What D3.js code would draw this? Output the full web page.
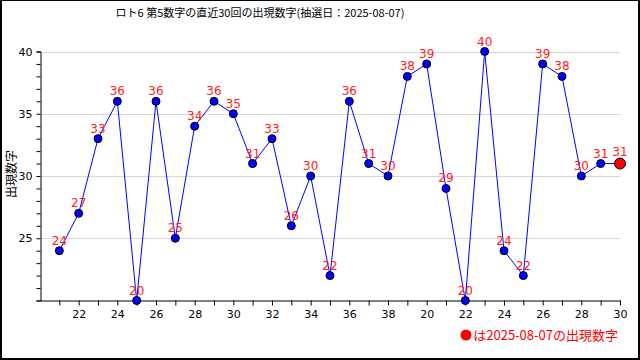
<!DOCTYPE html>
<html><head><meta charset="utf-8">
<script src="https://cdn.jsdelivr.net/npm/d3@7"></script>
<style>body{margin:0;background:#fff}svg{display:block}</style>
</head><body><svg id="c" width="640" height="360"></svg>
<script>
const titleText = "ロト6 第5数字の直近30回の出現数字(抽選日：2025-08-07)";
const yTitle = "出現数字";
const legendText = "は2025-08-07の出現数字";
const values = [24,27,33,36,20,36,25,34,36,35,31,33,26,30,22,36,31,30,38,39,29,20,40,24,22,39,38,30,31,31];
const xTickIdx = [2,4,6,8,10,12,14,16,18,20,22,24,26,28,30];
const xTickLabels = ["22","24","26","28","30","32","34","36","38","20","22","24","26","28","30"];
const yTicks = [25,30,35,40];

const svg = d3.select("#c");
const x = d3.scaleLinear().domain([0,30]).range([40,620]);
const y = d3.scaleLinear().domain([20,40]).range([300.5,51.5]);
const jp = "'Noto Sans CJK JP', sans-serif";
const num = "'DejaVu Sans', sans-serif";

// border
svg.append("rect").attr("x",0).attr("y",0).attr("width",2).attr("height",360).attr("fill","#000");
svg.append("rect").attr("x",0).attr("y",0).attr("width",640).attr("height",1).attr("fill","#000");
svg.append("rect").attr("x",638).attr("y",0).attr("width",2).attr("height",360).attr("fill","#000");
svg.append("rect").attr("x",0).attr("y",358).attr("width",640).attr("height",2).attr("fill","#000");

// title
svg.append("text").attr("x",260).attr("y",17).attr("text-anchor","middle")
  .attr("font-family",jp).attr("font-size",11).attr("fill","#000").text(titleText);

// grid
svg.append("g").selectAll("line").data(yTicks).join("line")
  .attr("x1",40).attr("x2",620).attr("y1",d=>Math.round(y(d))+0.5).attr("y2",d=>Math.round(y(d))+0.5)
  .attr("stroke","#d8d8d8").attr("stroke-width",1);

// y axis
const yAxis = svg.append("g").attr("transform","translate(40.5,0)")
  .call(d3.axisLeft(y).tickValues(d3.range(20,41)).tickSize(4).tickFormat(d=>yTicks.includes(d)?d:""));
yAxis.select(".domain").attr("stroke","#000");
yAxis.selectAll("text").attr("font-family",num).attr("font-size",11).attr("fill","#000").attr("dx",-1);

// x axis
const xAxis = svg.append("g").attr("transform","translate(0,300.5)")
  .call(d3.axisBottom(x).tickValues(d3.range(1,31)).tickSize(5).tickSizeOuter(0)
    .tickFormat(d=>{const k=xTickIdx.indexOf(d);return k>=0?xTickLabels[k]:"";}));
xAxis.select(".domain").attr("stroke","#000");
xAxis.selectAll("text").attr("font-family",num).attr("font-size",11).attr("fill","#000").attr("dy","0.9em");

// y title
svg.append("text").attr("transform","translate(16,174) rotate(-90)").attr("text-anchor","middle")
  .attr("font-family",jp).attr("font-size",12).attr("fill","#000").text(yTitle);

// line
const line = d3.line().x((d,i)=>x(i+1)).y(d=>y(d));
svg.append("path").datum(values).attr("d",line).attr("fill","none").attr("stroke","#0000ff").attr("stroke-width",1);

// points
svg.append("g").selectAll("circle").data(values).join("circle")
  .attr("cx",(d,i)=>x(i+1)).attr("cy",d=>y(d))
  .attr("r",(d,i)=>i===values.length-1?5.5:4)
  .attr("fill",(d,i)=>i===values.length-1?"#ff0000":"#0000ff")
  .attr("stroke","#000").attr("stroke-width",1);

// labels
svg.append("g").selectAll("text").data(values).join("text")
  .attr("x",(d,i)=>x(i+1)).attr("y",(d,i)=>y(d)-(i===values.length-1?8:6))
  .attr("text-anchor","middle").attr("font-family",num).attr("font-size",12).attr("fill","#ff2020")
  .text(d=>d);

// legend
svg.append("circle").attr("cx",466).attr("cy",335).attr("r",5.5).attr("fill","#ff0000");
svg.append("text").attr("x",618).attr("y",340).attr("text-anchor","end")
  .attr("font-family",jp).attr("font-size",13).attr("fill","#ff0000").text(legendText);
</script></body></html>
